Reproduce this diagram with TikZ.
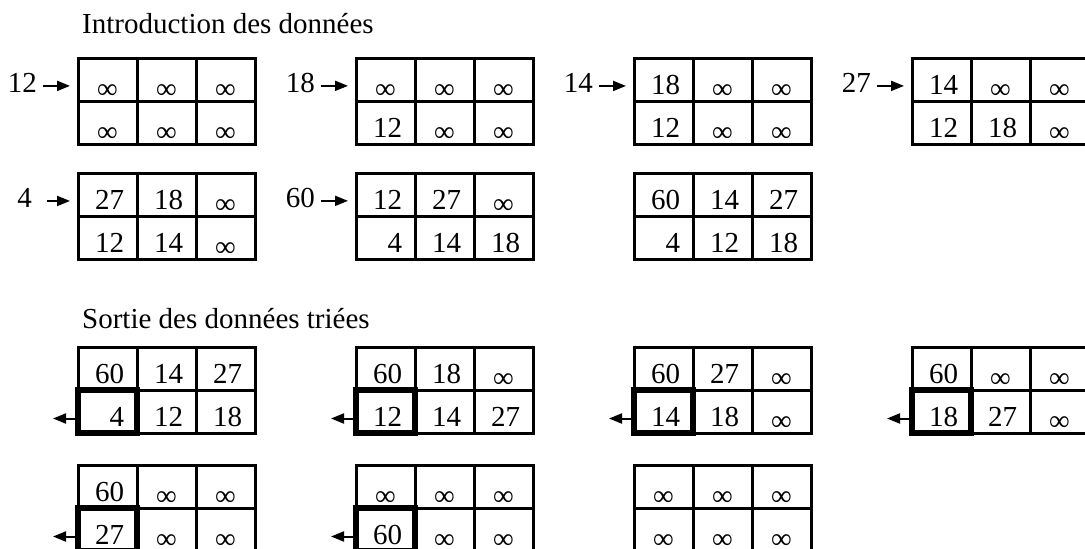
\documentclass[tikz,border=0pt]{standalone}
\usepackage{fontspec}
\setmainfont{Liberation Serif}
\usepackage{tikz}
\usetikzlibrary{arrows.meta, positioning}
\tikzstyle{cellBox} = [draw, rectangle, line width=3pt, inner sep=0pt, outer sep=0pt,
   minimum width=59pt, minimum height=43pt, text width=33pt, align=right,
   text height=29pt, text depth=0pt, font=\fontsize{29}{29}\selectfont]
\tikzstyle{inArrow} = [line width=2pt, -{Triangle[length=13pt,width=10pt]}, shorten >= 8pt]
\tikzstyle{outArrow} = [line width=2pt, -{Triangle[length=13pt,width=10pt]}]
\tikzstyle{curCell} = [line width=5.5pt]
\tikzstyle{inLabel} = [inner ysep=0pt, inner xsep=6pt, text depth=6pt,
   anchor=base east, font=\fontsize{29}{29}\selectfont]
\tikzstyle{titleText} = [inner sep=0pt, anchor=base west, font=\fontsize{29}{29}\selectfont]

\newcommand{\inft}{\makebox[33pt]{\raisebox{-4pt}{∞}}}
% 2x3 cells, named #1a #1b #1c (top) and #1d #1e #1f (bottom)
\newcommand{\cellGrid}[8]{%
  \node[cellBox, anchor=north west] (#1a) at (#2) {#3};
  \node[cellBox, right=0pt of #1a] (#1b) {#4};
  \node[cellBox, right=0pt of #1b] (#1c) {#5};
  \node[cellBox, below=0pt of #1a] (#1d) {#6};
  \node[cellBox, right=0pt of #1d] (#1e) {#7};
  \node[cellBox, right=0pt of #1e] (#1f) {#8};
}

\begin{document}
\begin{tikzpicture}[x=1pt, y=-1pt]
  \useasboundingbox (0,0) rectangle (1085,549);
  \clip (0,0) rectangle (1085,549);

  \node[titleText] (t1) at (82,33) {Introduction des données};
  \node[titleText] (t2) at (82,328) {Sortie des données triées};

  % insertion
  \cellGrid{g1}{78,58}{\inft}{\inft}{\inft}{\inft}{\inft}{\inft}
  \cellGrid{g2}{356,58}{\inft}{\inft}{\inft}{12}{\inft}{\inft}
  \cellGrid{g3}{634,58}{18}{\inft}{\inft}{12}{\inft}{\inft}
  \cellGrid{g4}{912,58}{14}{\inft}{\inft}{12}{18}{\inft}
  \cellGrid{g5}{78,173}{27}{18}{\inft}{12}{14}{\inft}
  \cellGrid{g6}{356,173}{12}{27}{\inft}{4}{14}{18}
  \cellGrid{g7}{634,173}{60}{14}{27}{4}{12}{18}

  \node[inLabel] (e1) at ([xshift=-35pt,yshift=-13pt]g1a.west) {12};
  \node[inLabel] (e2) at ([xshift=-35pt,yshift=-13pt]g2a.west) {18};
  \node[inLabel] (e3) at ([xshift=-35pt,yshift=-13pt]g3a.west) {14};
  \node[inLabel] (e4) at ([xshift=-35pt,yshift=-13pt]g4a.west) {27};
  \node[inLabel, inner xsep=15pt] (e5) at ([xshift=-31pt,yshift=-13pt]g5a.west) {4};
  \node[inLabel] (e6) at ([xshift=-35pt,yshift=-13pt]g6a.west) {60};
  \draw[inArrow] (e1.east) -- (e1.east -| g1a.west);
  \draw[inArrow] (e2.east) -- (e2.east -| g2a.west);
  \draw[inArrow] (e3.east) -- (e3.east -| g3a.west);
  \draw[inArrow] (e4.east) -- (e4.east -| g4a.west);
  \draw[inArrow] (e5.east) -- (e5.east -| g5a.west);
  \draw[inArrow] (e6.east) -- (e6.east -| g6a.west);

  % extraction
  \cellGrid{s1}{78,347}{60}{14}{27}{4}{12}{18}
  \cellGrid{s2}{356,347}{60}{18}{\inft}{12}{14}{27}
  \cellGrid{s3}{634,347}{60}{27}{\inft}{14}{18}{\inft}
  \cellGrid{s4}{912,347}{60}{\inft}{\inft}{18}{27}{\inft}
  \cellGrid{s5}{78,465}{60}{\inft}{\inft}{27}{\inft}{\inft}
  \cellGrid{s6}{356,465}{\inft}{\inft}{\inft}{60}{\inft}{\inft}
  \cellGrid{s7}{634,465}{\inft}{\inft}{\inft}{\inft}{\inft}{\inft}

  \draw[curCell] (s1d.north west) rectangle (s1d.south east);
  \draw[curCell] (s2d.north west) rectangle (s2d.south east);
  \draw[curCell] (s3d.north west) rectangle (s3d.south east);
  \draw[curCell] (s4d.north west) rectangle (s4d.south east);
  \draw[curCell] (s5d.north west) rectangle (s5d.south east);
  \draw[curCell] (s6d.north west) rectangle (s6d.south east);

  \coordinate (o1) at ([xshift=-25pt,yshift=-7pt]s1d.west);
  \coordinate (o2) at ([xshift=-25pt,yshift=-7pt]s2d.west);
  \coordinate (o3) at ([xshift=-25pt,yshift=-7pt]s3d.west);
  \coordinate (o4) at ([xshift=-25pt,yshift=-7pt]s4d.west);
  \coordinate (o5) at ([xshift=-25pt,yshift=-7pt]s5d.west);
  \coordinate (o6) at ([xshift=-25pt,yshift=-7pt]s6d.west);
  \draw[outArrow] (o1 -| s1d.west) -- (o1);
  \draw[outArrow] (o2 -| s2d.west) -- (o2);
  \draw[outArrow] (o3 -| s3d.west) -- (o3);
  \draw[outArrow] (o4 -| s4d.west) -- (o4);
  \draw[outArrow] (o5 -| s5d.west) -- (o5);
  \draw[outArrow] (o6 -| s6d.west) -- (o6);
\end{tikzpicture}
\end{document}
